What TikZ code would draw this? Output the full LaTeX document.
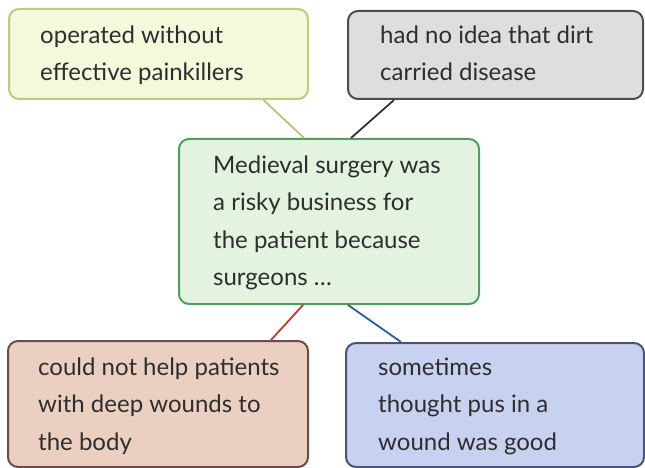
\documentclass[tikz,border=0pt]{standalone}
\usepackage{fontspec}
\setmainfont{Lato}
\definecolor{fillA}{HTML}{F4F9DC}\definecolor{drawA}{HTML}{B5CF7E}
\definecolor{fillB}{HTML}{DEDEDE}\definecolor{drawB}{HTML}{4D4D4D}
\definecolor{fillC}{HTML}{E3F3DF}\definecolor{drawC}{HTML}{4E9E5E}
\definecolor{fillD}{HTML}{EBCFC0}\definecolor{drawD}{HTML}{6E4A4A}
\definecolor{fillE}{HTML}{C8D2F0}\definecolor{drawE}{HTML}{4A5278}
\definecolor{lineA}{HTML}{BDBF7C}\definecolor{lineB}{HTML}{333333}
\definecolor{lineD}{HTML}{C0392B}\definecolor{lineE}{HTML}{2B5AA0}
\definecolor{txtcol}{HTML}{2E2E2E}
\begin{document}
\begin{tikzpicture}[x=1pt,y=-1pt,
  box/.style={draw, line width=2pt, rounded corners=10pt, anchor=north west, inner sep=0pt},
  txt/.style={anchor=base west, align=left, inner sep=0pt, font=\fontsize{24}{37.5}\selectfont, text=txtcol},
  link/.style={line width=1.8pt}]
\useasboundingbox (0,0) rectangle (645,468);
\node[box, fill=fillA, draw=drawA, minimum width=299pt, minimum height=90pt] (b1) at (8,8) {};
\node[box, fill=fillB, draw=drawB, minimum width=295pt, minimum height=88pt] (b2) at (347,10) {};
\node[box, fill=fillC, draw=drawC, minimum width=300pt, minimum height=165pt] (c) at (178,138) {};
\node[box, fill=fillD, draw=drawD, minimum width=300pt, minimum height=126pt] (b4) at (7,340) {};
\node[box, fill=fillE, draw=drawE, minimum width=298pt, minimum height=124pt] (b5) at (345,342) {};
% base anchor of a multi-line node is the baseline of its last line
\node[txt] (t1) at (40,81) {operated without\\effective painkillers};
\node[txt] (t2) at (380,81) {had no idea that dirt\\carried disease};
\node[txt] (tc) at (213,285.5) {Medieval surgery was\\a risky business for\\the patient because\\surgeons \dots};
\node[txt] (t4) at (38,450) {could not help patients\\with deep wounds to\\the body};
\node[txt] (t5) at (378,450) {sometimes\\thought pus in a\\wound was good};
\draw[link, lineA] ([xshift=105pt]b1.south) -- ([xshift=-25pt]c.north);
\draw[link, lineB] ([xshift=-101.5pt]b2.south) -- ([xshift=22pt]c.north);
\draw[link, lineD] ([xshift=-26pt]c.south) -- ([xshift=113pt]b4.north);
\draw[link, lineE] ([xshift=19pt]c.south) -- ([xshift=-94pt]b5.north);
\end{tikzpicture}
\end{document}
